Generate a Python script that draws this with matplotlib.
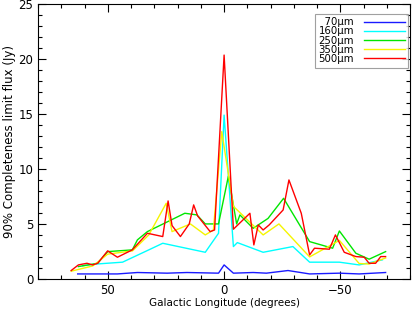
import matplotlib
matplotlib.use("Agg")
import matplotlib.pyplot as plt
from matplotlib.ticker import MultipleLocator
from matplotlib.transforms import ScaledTranslation

# 70 micron
lon_70 = [63, 45.9, 37.3, 24.5, 16, 2.4, 0, -4, -12.5, -18.2, -27.5, -36.8, -49.6, -58.1, -69.5]
flux_70 = [0.45, 0.45, 0.58, 0.52, 0.58, 0.52, 1.27, 0.52, 0.58, 0.52, 0.76, 0.45, 0.52, 0.45, 0.58]

# 160 micron
lon_160 = [60.8, 54.4, 43.7, 32.4, 26.4, 8.1, 2.4, 0, -4, -5.7, -16.8, -29.6, -36.8, -49.6, -58.1, -68.1]
flux_160 = [1.2, 1.36, 1.52, 2.64, 3.24, 2.42, 4.15, 14.9, 2.94, 3.3, 2.42, 2.94, 1.52, 1.52, 1.27, 1.73]

# 250 micron
lon_250 = [62.7, 54.4, 50.1, 39.5, 37.3, 33.0, 16.9, 11.7, 8.1, 2.4, -1.85, -5.4, -6.8,
           -12.5, -18.9, -25.6, -36.8, -46.7, -49.6, -56.7, -62.4, -69.5]
flux_250 = [1.12, 1.42, 2.48, 2.64, 3.55, 4.3, 5.97, 5.82, 5.0, 5.0, 9.36, 5.0, 5.82,
            4.6, 5.5, 7.33, 3.39, 2.79, 4.36, 2.33, 1.79, 2.48]

# 350 micron
lon_350 = [65.8, 56.5, 50.1, 39.4, 32.4, 24.9, 22.4, 14.5, 8.1, 4.6, 1.0, -4, -16.8,
           -23.6, -36.8, -49.6, -58.1, -62.4, -69.5]
flux_350 = [0.7, 1.18, 2.25, 2.55, 4.0, 6.88, 4.3, 5.0, 4.0, 4.45, 13.4, 6.6, 4.0,
            5.0, 2.0, 3.5, 1.4, 1.35, 1.9]

# 500 micron
lon_500 = [65.8, 62.7, 59.0, 56.6, 54.4, 50.1, 45.9, 39.5, 33.0, 26.4, 24.1, 22.4, 18.8,
           15.0, 13.1, 11.4, 6.0, 4.1, 0, -4.0, -11.1, -12.8, -14.7, -16.8, -19.4,
           -25.4, -27.9, -33.2, -36.8, -38.9, -45.3, -47.9, -51.7, -56.7, -60.3,
           -62.4, -65.2, -67.4, -69.5]
flux_500 = [0.76, 1.27, 1.42, 1.27, 1.42, 2.55, 1.97, 2.64, 4.15, 3.85, 7.09, 4.85, 3.85,
            5.0, 6.73, 5.73, 4.3, 4.45, 20.36, 4.52, 5.97, 3.09, 4.91, 4.45, 4.91,
            6.27, 9.0, 5.97, 2.18, 2.79, 2.7, 4.0, 2.42, 2.03, 1.97,
            1.42, 1.42, 2.03, 2.03]

plt.rcParams['font.family'] = ['DejaVu Sans']

fig = plt.figure(figsize=(4.15, 3.13), dpi=100)
ax = fig.add_axes([0.092, 0.109, 0.896, 0.878])

ax.plot(lon_70, flux_70, color='#1a1aff', lw=1, label='\u200770µm')
ax.plot(lon_160, flux_160, color='#00ffff', lw=1, label='160µm')
ax.plot(lon_250, flux_250, color='#00e600', lw=1, label='250µm')
ax.plot(lon_350, flux_350, color='#f5f500', lw=1, label='350µm')
ax.plot(lon_500, flux_500, color='#ff0000', lw=1, label='500µm')

ax.set_xlim(80, -80)
ax.set_ylim(0, 25)
ax.xaxis.set_major_locator(MultipleLocator(50))
ax.xaxis.set_minor_locator(MultipleLocator(10))
ax.yaxis.set_major_locator(MultipleLocator(5))
ax.yaxis.set_minor_locator(MultipleLocator(1))
ax.tick_params(which='both', direction='in', top=True, right=True, labelsize=8.5, width=0.8)
ax.tick_params(which='major', length=6)
ax.tick_params(which='minor', length=3)
ax.set_xticks([50, 0, -50])
ax.set_xticklabels(['50', '0', '\u221250'])
for s in ax.spines.values():
    s.set_linewidth(0.8)

# keep the top "25" label inside the figure, as in the original
fig.canvas.draw()
top_lab = ax.get_yticklabels()[-1]
top_lab.set_transform(top_lab.get_transform() + ScaledTranslation(0, -5 / 100, fig.dpi_scale_trans))

ax.set_xlabel('Galactic Longitude (degrees)', fontsize=7.5, labelpad=1)
ax.set_ylabel('90% Completeness limit flux (Jy)', fontsize=8.5, labelpad=2)

leg = ax.legend(loc='upper right', markerfirst=False, fontsize=7.3, frameon=True,
                fancybox=False, edgecolor='#888888', handlelength=4.0,
                labelspacing=-0.08, borderpad=0.35, handletextpad=1.0,
                bbox_to_anchor=(0.995, 0.965), borderaxespad=0)
leg.get_frame().set_linewidth(0.8)

fig.savefig('out.png', dpi=100)
